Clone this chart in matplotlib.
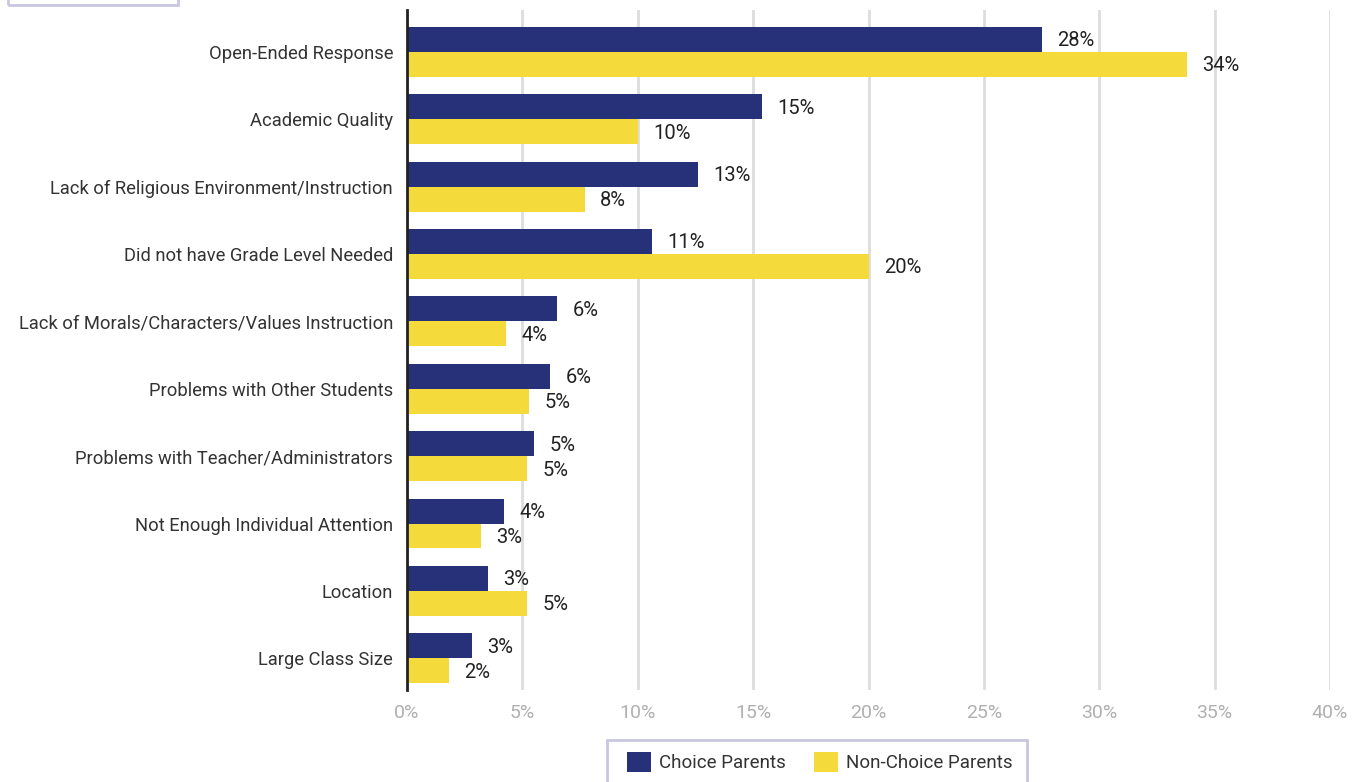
import matplotlib
matplotlib.use("Agg")
import matplotlib.pyplot as plt
from matplotlib.patches import Rectangle, Patch
import numpy as np

categories = [
    "Open-Ended Response",
    "Academic Quality",
    "Lack of Religious Environment/Instruction",
    "Did not have Grade Level Needed",
    "Lack of Morals/Characters/Values Instruction",
    "Problems with Other Students",
    "Problems with Teacher/Administrators",
    "Not Enough Individual Attention",
    "Location",
    "Large Class Size",
]
choice = [27.5, 15.4, 12.6, 10.6, 6.5, 6.2, 5.5, 4.2, 3.5, 2.8]
non_choice = [33.8, 10.0, 7.7, 20.0, 4.3, 5.3, 5.2, 3.2, 5.2, 1.8]
choice_labels = ["28%", "15%", "13%", "11%", "6%", "6%", "5%", "4%", "3%", "3%"]
non_choice_labels = ["34%", "10%", "8%", "20%", "4%", "5%", "5%", "3%", "5%", "2%"]
xticks = [0, 5, 10, 15, 20, 25, 30, 35, 40]
xtick_labels = ["0%", "5%", "10%", "15%", "20%", "25%", "30%", "35%", "40%"]
series_names = ["Choice Parents", "Non-Choice Parents"]

NAVY = "#27317a"
YELLOW = "#f5da3b"
BORDER = "#c9c6e0"

plt.rcParams["font.family"] = ["Roboto", "DejaVu Sans"]

W, H = 1362, 782
fig = plt.figure(figsize=(W / 100, H / 100), dpi=100)
ax = fig.add_axes([407 / W, 1 - 690 / H, (1330 - 407) / W, (690 - 10) / H])

y = np.arange(len(categories))
bh = 0.37
ax.barh(y - bh / 2, choice, height=bh, color=NAVY, zorder=3)
ax.barh(y + bh / 2, non_choice, height=bh, color=YELLOW, zorder=3)

for yi, v, lab in zip(y, choice, choice_labels):
    ax.annotate(lab, (v, yi - bh / 2), xytext=(11, -1), textcoords="offset points",
                ha="left", va="center", fontsize=14.5, color="#222222")
for yi, v, lab in zip(y, non_choice, non_choice_labels):
    ax.annotate(lab, (v, yi + bh / 2), xytext=(11, -1), textcoords="offset points",
                ha="left", va="center", fontsize=14.5, color="#222222")

ax.set_xlim(0, 40)
ax.set_ylim(len(categories) - 1 + 0.47, -0.62)
ax.set_yticks(y)
ax.set_yticklabels(categories, fontsize=13.2, color="#333333")
ax.set_xticks(xticks)
ax.set_xticklabels(xtick_labels, fontsize=14, color="#b0b0b0")
ax.tick_params(axis="both", length=0)
ax.tick_params(axis="y", pad=10)
ax.tick_params(axis="x", pad=10)
ax.grid(axis="x", color="#dddddd", linewidth=2, zorder=0)
for s in ["top", "right", "bottom"]:
    ax.spines[s].set_visible(False)
ax.spines["left"].set_color("#222222")
ax.spines["left"].set_linewidth(2)
ax.spines["left"].set_zorder(4)

# partially visible box at top-left
fig.patches.append(Rectangle((8 / W, 1 - 5 / H), 170 / W, 20 / H, transform=fig.transFigure,
                             fill=False, edgecolor=BORDER, linewidth=2))
# legend box (extends below the figure edge)
fig.patches.append(Rectangle((607 / W, -20 / H), 420 / W, 62 / H,
                             transform=fig.transFigure, fill=False, edgecolor=BORDER, linewidth=2))
handles = [Patch(facecolor=NAVY, edgecolor="none"), Patch(facecolor=YELLOW, edgecolor="none")]
fig.legend(handles, series_names, loc="center", bbox_to_anchor=(820 / W, 1 - 762 / H),
           ncol=2, frameon=False, fontsize=13.5, handlelength=1.25, handleheight=1.25,
           columnspacing=1.5, handletextpad=0.45, labelcolor="#333333")

fig.savefig("out.png", dpi=100)
